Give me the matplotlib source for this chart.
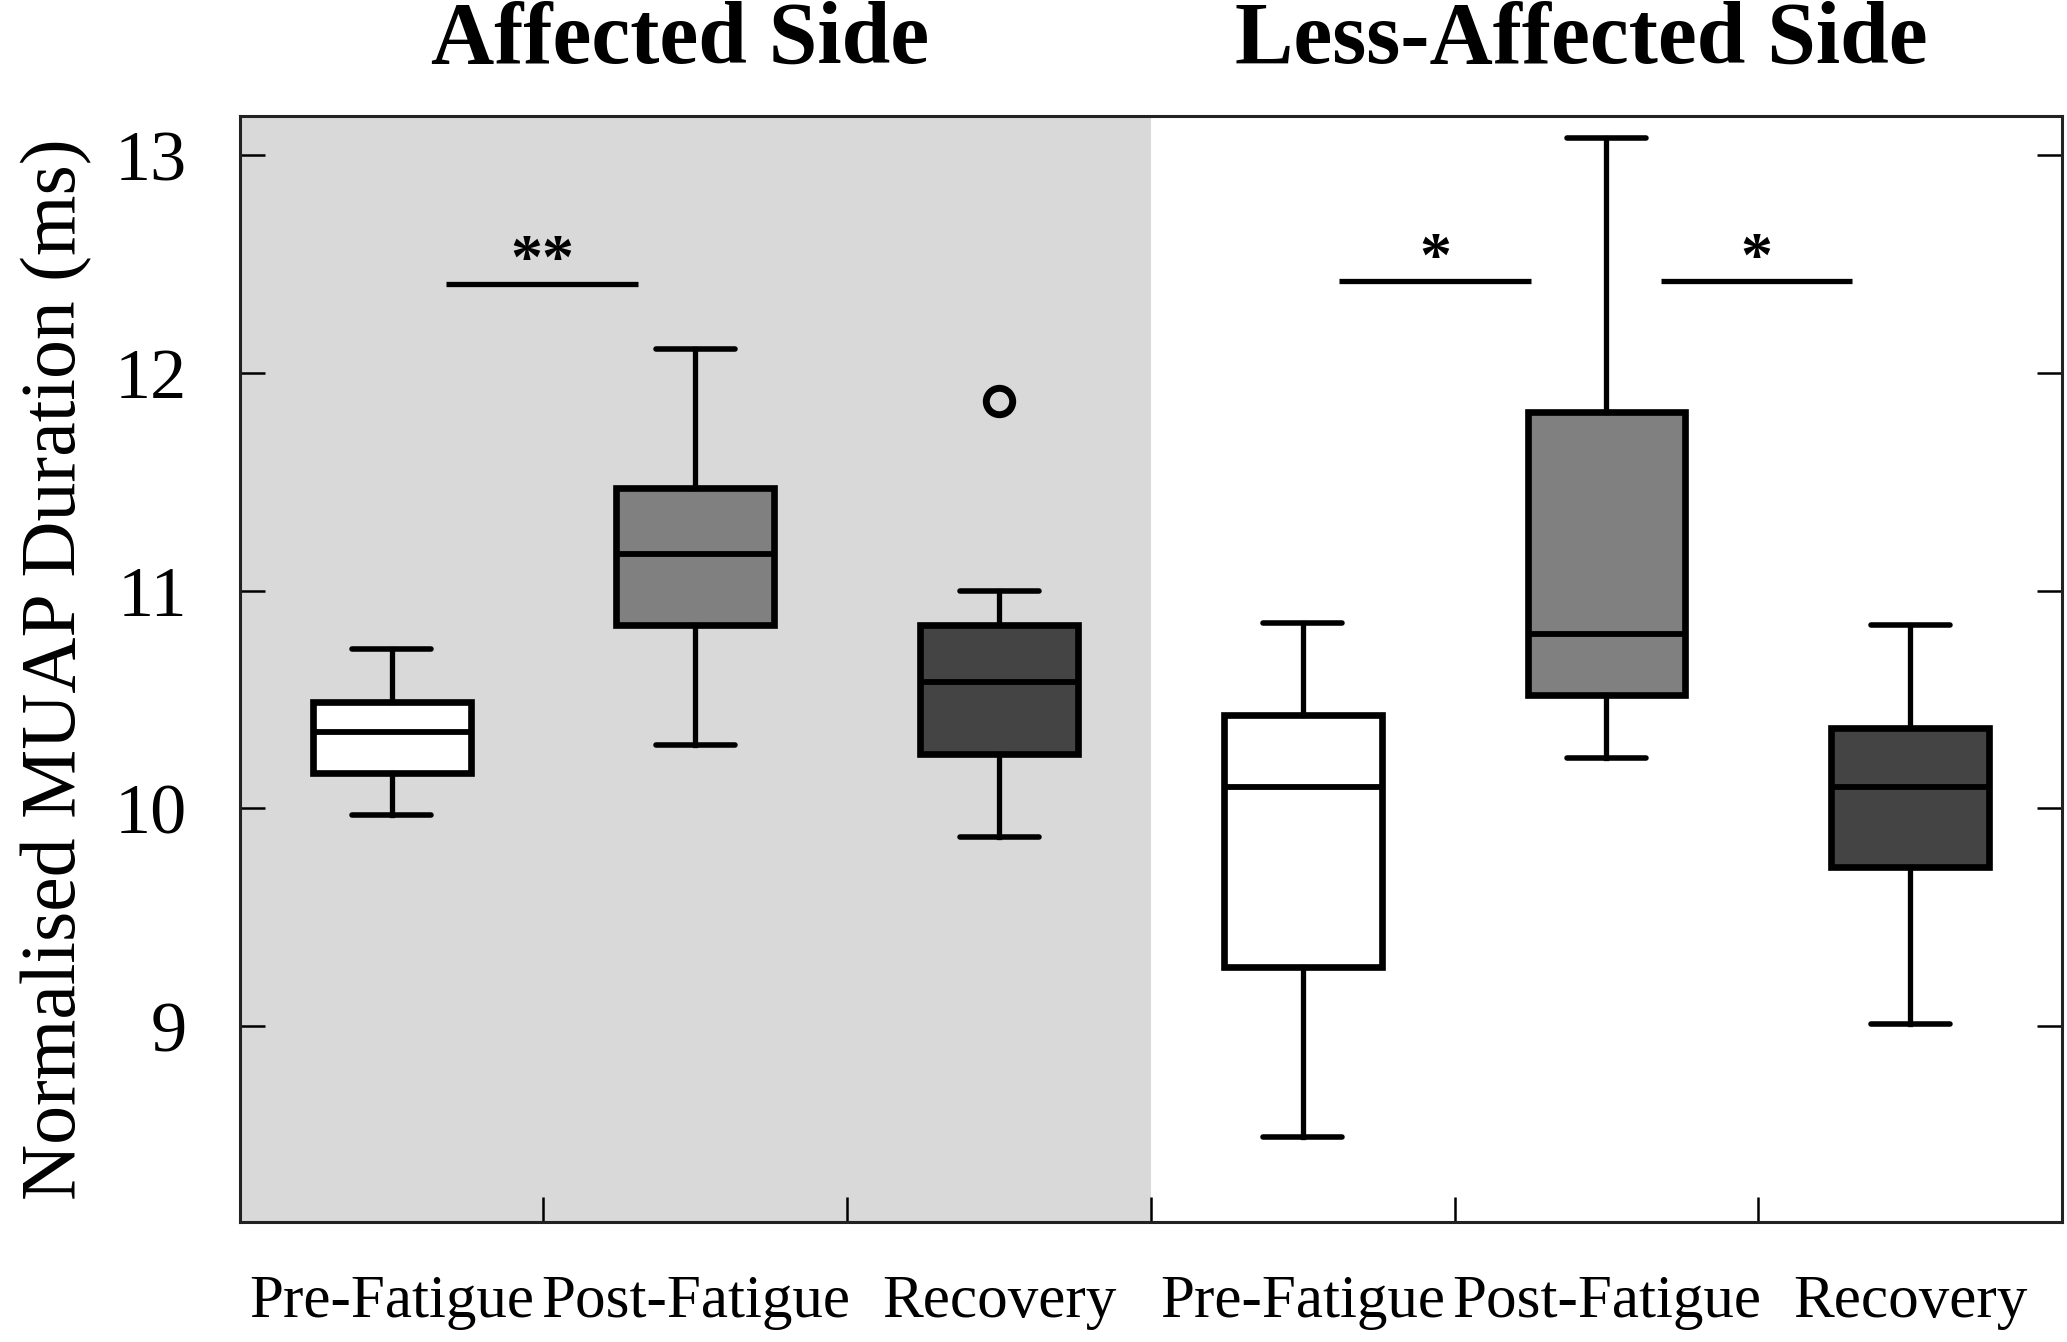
import matplotlib.pyplot as plt

plt.rcParams['font.family'] = ['Liberation Serif', 'DejaVu Serif']

# box statistics (ms)
labels = ['Pre-Fatigue', 'Post-Fatigue', 'Recovery', 'Pre-Fatigue', 'Post-Fatigue', 'Recovery']
whislo = [9.97, 10.29, 9.87, 8.49, 10.23, 9.01]
q1 = [10.16, 10.84, 10.25, 9.27, 10.52, 9.73]
med = [10.35, 11.17, 10.58, 10.10, 10.80, 10.10]
q3 = [10.49, 11.47, 10.84, 10.43, 11.82, 10.37]
whishi = [10.73, 12.11, 11.00, 10.85, 13.08, 10.84]
fliers = [[], [], [11.87], [], [], []]
colors = ['white', '#808080', '#444444', 'white', '#808080', '#444444']

# significance bars: (x start, x end, y, label)
sig = [(0.68, 1.31, 12.41, '**'), (3.62, 4.25, 12.42, '*'), (4.68, 5.31, 12.42, '*')]

stats = []
for i in range(len(labels)):
    stats.append(dict(med=med[i], q1=q1[i], q3=q3[i], whislo=whislo[i],
                      whishi=whishi[i], fliers=fliers[i]))

fig = plt.figure(figsize=(20.67, 13.42), dpi=100)
ax = fig.add_axes([0.116, 0.0894, 0.8816, 0.8242])

ax.axvspan(0, 3, color='#d9d9d9', zorder=0, lw=0)

pos = [i + 0.5 for i in range(len(labels))]
bp = ax.bxp(stats, positions=pos, widths=0.52, capwidths=0.26, patch_artist=True,
            boxprops=dict(linewidth=4.8, edgecolor='black'),
            medianprops=dict(linewidth=4.2, color='black'),
            whiskerprops=dict(linewidth=3.8, color='black'),
            capprops=dict(linewidth=4.0, color='black', solid_capstyle='round'),
            flierprops=dict(marker='o', markersize=19, markerfacecolor='none',
                            markeredgecolor='black', markeredgewidth=5))
for p, c in zip(bp['boxes'], colors):
    p.set_facecolor(c)

for x0, x1, y, s in sig:
    ax.plot([x0, x1], [y, y], color='black', lw=3.8, solid_capstyle='butt')
    ax.text((x0 + x1) / 2, y - 0.04, s, ha='center', va='bottom',
            fontsize=46, fontweight='bold')

ax.set_xlim(0, 6)
ax.set_ylim(8.1, 13.18)
ax.set_xticks([1, 2, 3, 4, 5])
ax.set_xticklabels([])
ax.set_xticks(pos, minor=True)
ax.set_xticklabels(labels, minor=True, fontsize=44)
ax.tick_params(axis='x', which='major', direction='in', length=18, width=1.8, top=False)
ax.tick_params(axis='x', which='minor', length=0, pad=38)
ax.set_yticks([9, 10, 11, 12, 13])
ax.tick_params(axis='y', direction='in', length=18, width=1.8, right=True,
               labelsize=52, pad=38)
for sp in ax.spines.values():
    sp.set_linewidth(2.2)
    sp.set_color('#222222')

ax.set_ylabel('Normalised MUAP Duration (ms)', fontsize=56, labelpad=16)

fig.text(0.329, 0.969, 'Affected Side', ha='center', va='center',
         fontsize=63, fontweight='bold')
fig.text(0.765, 0.969, 'Less-Affected Side', ha='center', va='center',
         fontsize=63, fontweight='bold')

fig.savefig('out.png', dpi=100)
